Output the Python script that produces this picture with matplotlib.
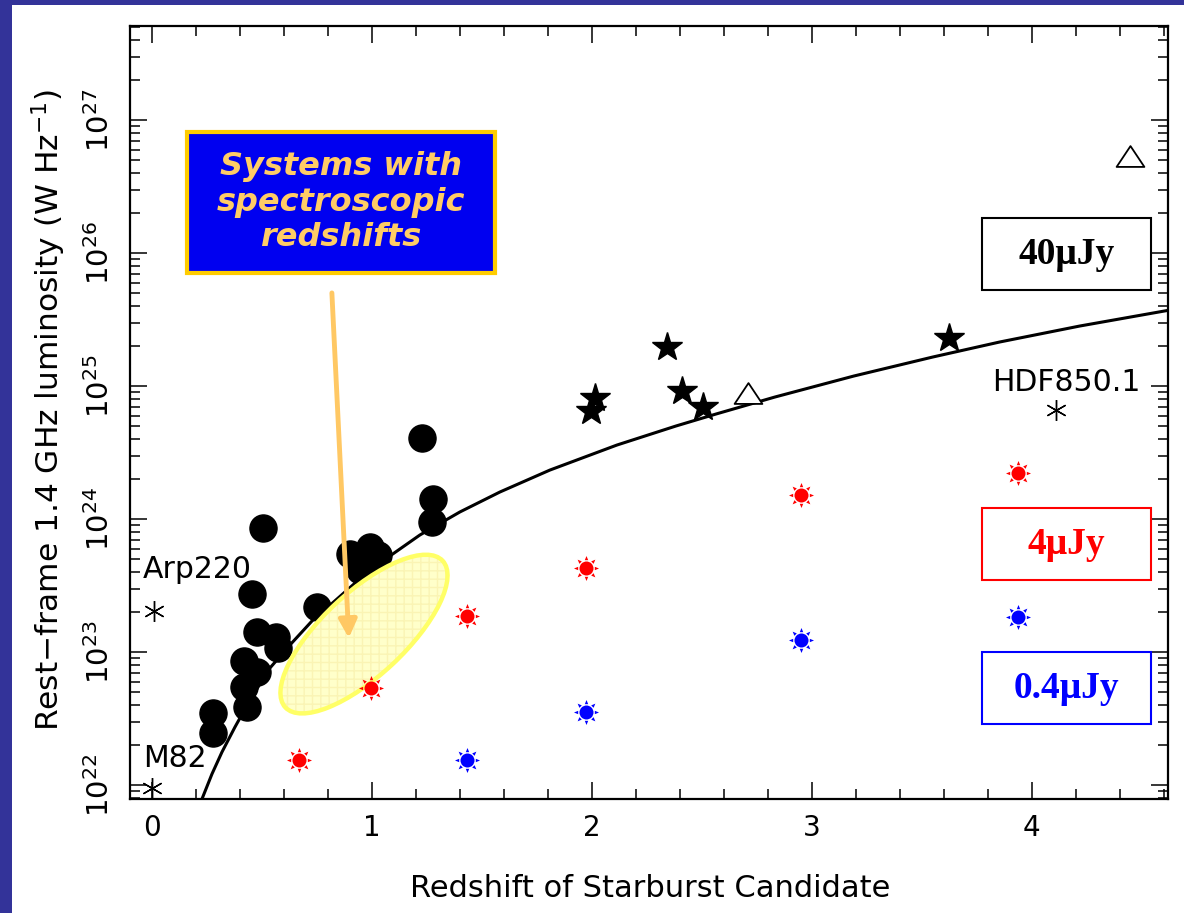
import numpy as np
import matplotlib
matplotlib.use("Agg")
import matplotlib.pyplot as plt
from matplotlib.patches import Rectangle, Ellipse
from matplotlib.path import Path
from matplotlib.transforms import ScaledTranslation
from matplotlib.ticker import MultipleLocator, LogLocator, LogFormatterMathtext, NullFormatter

# ---------------- data (redshift, log10 L_1.4GHz [W/Hz]) ----------------
spec_z = [1.227, 1.277, 1.273, 0.505, 0.991, 0.900, 1.027, 0.945, 1.009, 0.455,
          0.750, 0.477, 0.564, 0.573, 0.418, 0.477, 0.418, 0.432, 0.277, 0.277]
spec_logL = [24.61, 24.15, 23.98, 23.93, 23.79, 23.74, 23.73, 23.62, 23.59, 23.44,
             23.34, 23.15, 23.11, 23.03, 22.93, 22.85, 22.74, 22.59, 22.54, 22.39]

star_z = [2.014, 1.995, 2.341, 2.409, 2.505, 3.623]
star_logL = [24.91, 24.81, 25.29, 24.96, 24.84, 25.36]

tri_z = [2.709, 4.445]
tri_logL = [24.95, 26.73]

local_names = ["Arp220", "M82", "HDF850.1"]
local_z = [0.01, 0.0, 4.11]
local_logL = [23.31, 21.98, 24.82]
local_label_z = [-0.04, -0.04, 3.82]
local_label_logL = [23.62, 22.20, 25.03]

# 40 uJy detection-limit curve
curve_z = [0.2273, 0.2727, 0.3182, 0.3773, 0.4455, 0.5364, 0.6273, 0.7273, 0.8409, 0.9545,
           1.0818, 1.2182, 1.4000, 1.5818, 1.8091, 2.1136, 2.3818, 2.5636, 2.8318, 3.1909,
           3.5500, 3.8545, 4.2182, 4.6273]
curve_logL = [21.895, 22.083, 22.248, 22.436, 22.639, 22.880, 23.053, 23.233, 23.398, 23.564,
              23.722, 23.880, 24.053, 24.203, 24.368, 24.556, 24.699, 24.789, 24.917, 25.075,
              25.218, 25.331, 25.451, 25.571]

red_z = [0.668, 0.995, 1.432, 1.973, 2.950, 3.936]
red_logL = [22.188, 22.729, 23.271, 23.632, 24.180, 24.346]
blue_z = [1.432, 1.973, 2.950, 3.936]
blue_logL = [22.188, 22.549, 23.090, 23.263]

limit_labels = ["40\u03bcJy", "4\u03bcJy", "0.4\u03bcJy"]
limit_colors = ["black", "#FF0000", "#0000FF"]

xlim = (-0.1, 4.62)
ylim_log = (21.895, 27.707)

# ---------------- figure ----------------
W, H, DPI = 1184, 913, 100
fig = plt.figure(figsize=(W / DPI, H / DPI), dpi=DPI, facecolor="#333399")
fig.patches.append(Rectangle((12 / W, 0), 1 - 12 / W, 1 - 5 / H, transform=fig.transFigure,
                             facecolor="white", edgecolor="none", zorder=-10))
ax = fig.add_axes([130 / W, 1 - 799 / H, (1168 - 130) / W, (799 - 26) / H])
ax.set_yscale("log")
ax.set_xlim(*xlim)
ax.set_ylim(10 ** ylim_log[0], 10 ** ylim_log[1])

for s in ax.spines.values():
    s.set_linewidth(1.6)

ax.xaxis.set_major_locator(MultipleLocator(1))
ax.xaxis.set_minor_locator(MultipleLocator(0.2))
ax.yaxis.set_major_locator(LogLocator(base=10, numticks=20))
ax.yaxis.set_minor_locator(LogLocator(base=10, subs=np.arange(2, 10), numticks=20))
ax.yaxis.set_major_formatter(LogFormatterMathtext())
ax.yaxis.set_minor_formatter(NullFormatter())
ax.tick_params(which="both", direction="in", top=True, right=True, width=1.1)
ax.tick_params(which="major", length=12)
ax.tick_params(which="minor", length=7)
ax.tick_params(axis="x", labelsize=20, pad=11)
ax.tick_params(axis="y", labelsize=21, pad=11, labelrotation=90)
plt.setp(ax.yaxis.get_majorticklabels(), va="center")

ax.set_xlabel("Redshift of Starburst Candidate", fontsize=22)
ax.xaxis.set_label_coords(0.501, -0.097)
ax.set_ylabel("Rest\u2212frame 1.4 GHz luminosity (W Hz$^{-1}$)", fontsize=22.5)
ax.yaxis.set_label_coords(-0.060, 0.503)

# detection limit curve
ax.plot(curve_z, 10 ** np.array(curve_logL), color="black", lw=2.2, zorder=2, clip_on=True,
        solid_joinstyle="round")

# spectroscopic systems
ax.plot(spec_z, 10 ** np.array(spec_logL), "o", color="black", ms=19.5, mec="black", zorder=3)
ax.plot(star_z, 10 ** np.array(star_logL), "*", color="black", ms=22, zorder=3)
tri_marker = Path([(-1, -0.75), (1, -0.75), (0, 0.75), (-1, -0.75)],
                  [Path.MOVETO, Path.LINETO, Path.LINETO, Path.CLOSEPOLY])
ax.plot(tri_z, 10 ** np.array(tri_logL), linestyle="none", marker=tri_marker, ms=20,
        mfc="white", mec="black", mew=1.3, zorder=3)
ax.plot(local_z, 10 ** np.array(local_logL), linestyle="none", marker=(6, 2, 0), ms=15,
        color="black", mew=1.0, zorder=3)
for name, lz, ll in zip(local_names, local_label_z, local_label_logL):
    ax.text(lz, 10 ** ll, name, fontsize=21.5, ha="left", va="center", zorder=3)

# highlight ellipse
ell_center = (0.964, 10 ** 23.135)
ell_trans = fig.dpi_scale_trans + ScaledTranslation(ell_center[0], ell_center[1], ax.transData)
ax.add_patch(Ellipse((0, 0), 2.15, 0.83, angle=43, transform=ell_trans, facecolor="#FFFFCA",
                     edgecolor="#FAF4B4", hatch="++", lw=0, zorder=4))
ax.add_patch(Ellipse((0, 0), 2.15, 0.83, angle=43, transform=ell_trans, facecolor="none",
                     edgecolor="#FFFF66", lw=3.2, zorder=4))

# sun markers
def sun_path():
    verts, codes = [], []
    circ = Path.circle((0, 0), 0.56)
    verts.extend(circ.vertices.tolist())
    codes.extend(circ.codes.tolist())
    for k in range(8):
        a = k * np.pi / 4
        tip = (np.cos(a), np.sin(a))
        b1 = (0.68 * np.cos(a - 0.2), 0.68 * np.sin(a - 0.2))
        b2 = (0.68 * np.cos(a + 0.2), 0.68 * np.sin(a + 0.2))
        verts.extend([tip, b1, b2, tip])
        codes.extend([Path.MOVETO, Path.LINETO, Path.LINETO, Path.CLOSEPOLY])
    return Path(verts, codes)

sun = sun_path()
ax.plot(red_z, 10 ** np.array(red_logL), linestyle="none", marker=sun, ms=18,
        mfc="#FF0000", mec="none", zorder=6)
ax.plot(blue_z, 10 ** np.array(blue_logL), linestyle="none", marker=sun, ms=18,
        mfc="#0000FF", mec="none", zorder=6)

# annotation box and arrow
ax.add_patch(Rectangle((0.0549, 0.6805), 0.2967, 0.1824, transform=ax.transAxes,
                       facecolor="#0000F0", edgecolor="#FFCC00", lw=3, zorder=7, clip_on=False))
ax.text(0.2033, 0.7723, "Systems with\nspectroscopic\nredshifts", transform=ax.transAxes,
        ha="center", va="center", fontsize=23, fontweight="bold", fontstyle="italic",
        color="#FFCC66", linespacing=1.2, zorder=8)
ax.annotate("", xy=(0.895, 10 ** 23.105), xytext=(0.818, 10 ** 25.70),
            arrowprops=dict(arrowstyle="-|>", color="#FFC864", lw=3.5, mutation_scale=27,
                            shrinkA=0, shrinkB=0), zorder=5)

# flux-limit boxes
box_y = [(0.658, 0.752), (0.283, 0.376), (0.097, 0.190)]
for lab, col, (y0, y1) in zip(limit_labels, limit_colors, box_y):
    ax.add_patch(Rectangle((0.821, y0), 0.163, y1 - y0, transform=ax.transAxes,
                           facecolor="white", edgecolor=col, lw=1.5, zorder=7))
    ax.text(0.9025, (y0 + y1) / 2, lab, transform=ax.transAxes, ha="center", va="center",
            fontsize=27, fontweight="bold", family="Liberation Serif", color=col, zorder=8)

fig.savefig("out.png", dpi=DPI, facecolor=fig.get_facecolor())
